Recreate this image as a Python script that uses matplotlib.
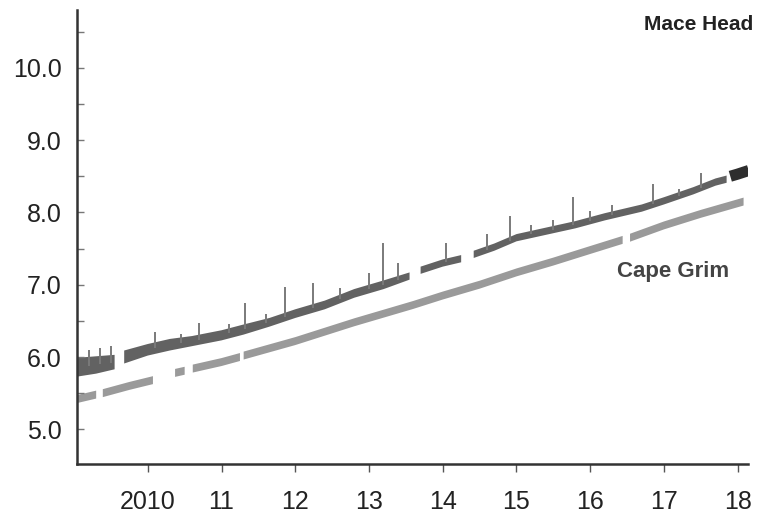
import matplotlib
matplotlib.use("Agg")
import matplotlib.pyplot as plt
import numpy as np

plt.rcParams['font.family'] = ['Liberation Sans', 'DejaVu Sans']

# Mace Head baseline band (year, centre, half width); nan = gap in record
mace_t = [2009.05, 2009.3, 2009.55, 2009.6, 2009.68, 2010.0, 2010.3, 2010.6, 2011.0,
          2011.3, 2011.65, 2012.0, 2012.4, 2012.8, 2013.2, 2013.55, 2013.62, 2013.7,
          2014.0, 2014.25, 2014.33, 2014.42, 2014.7, 2015.0, 2015.4, 2015.8, 2016.2,
          2016.7, 2017.0, 2017.4, 2017.7, 2017.85]
mace_c = [5.86, 5.89, 5.93, np.nan, 6.0, 6.1, 6.17, 6.22, 6.3,
          6.38, 6.48, 6.6, 6.72, 6.88, 7.0, 7.12, np.nan, 7.2,
          7.3, 7.36, np.nan, 7.42, 7.52, 7.65, 7.74, 7.83, 7.94,
          8.06, 8.16, 8.3, 8.42, 8.46]
mace_hw = [0.13, 0.12, 0.1, np.nan, 0.09, 0.08, 0.08, 0.07, 0.07,
           0.07, 0.06, 0.06, 0.06, 0.06, 0.06, 0.05, np.nan, 0.05,
           0.05, 0.05, np.nan, 0.05, 0.05, 0.05, 0.05, 0.05, 0.05,
           0.05, 0.05, 0.05, 0.05, 0.05]

# last months at Mace Head (dark blob at the end)
mace_end_t = [2017.9, 2018.0, 2018.15]
mace_end_c = [8.5, 8.53, 8.58]

# pollution spikes at Mace Head (year, top value)
spike_t = [2009.2, 2009.35, 2009.5, 2010.1, 2010.45, 2010.7, 2011.1, 2011.32, 2011.6,
           2011.86, 2012.24, 2012.6, 2013.0, 2013.19, 2013.4, 2014.05, 2014.6,
           2014.91, 2015.2, 2015.5, 2015.76, 2016.0, 2016.3, 2016.85, 2017.2,
           2017.5, 2018.16]
spike_top = [6.1, 6.12, 6.15, 6.35, 6.32, 6.47, 6.45, 6.75, 6.6,
             6.97, 7.02, 6.95, 7.16, 7.58, 7.3, 7.58, 7.7,
             7.95, 7.82, 7.9, 8.21, 8.02, 8.1, 8.4, 8.32,
             8.55, 8.82]

# Cape Grim band
grim_t = [2009.05, 2009.3, 2009.35, 2009.39, 2009.75, 2010.07, 2010.2, 2010.37, 2010.5,
          2010.55, 2010.61, 2011.0, 2011.25, 2011.28, 2011.3, 2011.65, 2012.0, 2012.4,
          2012.8, 2013.2, 2013.6, 2014.0, 2014.5, 2015.0, 2015.5, 2016.0, 2016.44,
          2016.5, 2016.54, 2017.0, 2017.5, 2018.08]
grim_c = [5.42, 5.48, np.nan, 5.5, 5.6, 5.68, np.nan, 5.78, 5.81,
          np.nan, 5.84, 5.93, 6.0, np.nan, 6.02, 6.12, 6.22, 6.35,
          6.48, 6.6, 6.72, 6.85, 7.0, 7.17, 7.32, 7.48, 7.62,
          np.nan, 7.65, 7.82, 7.98, 8.15]

year_ticks = [2010, 2011, 2012, 2013, 2014, 2015, 2016, 2017, 2018]
year_labels = ['2010', '11', '12', '13', '14', '15', '16', '17', '18']
y_ticks = [5.0, 6.0, 7.0, 8.0, 9.0, 10.0]

fig = plt.figure(figsize=(7.58, 5.18), dpi=100)
ax = fig.add_axes([77/758, 54/518, 671/758, 454/518])

mt = np.array(mace_t)
mc = np.array(mace_c)
mh = np.array(mace_hw)
ok = ~np.isnan(mc)
ax.fill_between(mt, mc - mh, mc + mh, color='#626262', lw=0)
ax.vlines(spike_t, np.interp(spike_t, mt[ok], mc[ok]), spike_top,
          color='#7a7a7a', lw=1.4)
ax.plot(mace_end_t, mace_end_c, color='#2e2e2e', lw=8, solid_capstyle='butt')

gt = np.array(grim_t)
gc = np.array(grim_c)
ax.fill_between(gt, gc - 0.055, gc + 0.055, color='#9a9a9a', lw=0)

ax.set_xlim(2009.04, 2018.14)
ax.set_ylim(4.52, 10.8)
ax.set_xticks(year_ticks)
ax.set_xticklabels(year_labels)
ax.set_yticks(y_ticks)
ax.set_yticklabels(['%.1f' % v for v in y_ticks])
ax.set_yticks(np.arange(5.5, 10.6, 1.0), minor=True)

for s in ['top', 'right']:
    ax.spines[s].set_visible(False)
for s in ['left', 'bottom']:
    ax.spines[s].set_color('#333333')
    ax.spines[s].set_linewidth(1.8)

ax.tick_params(axis='x', direction='out', length=6, width=1, color='#555555',
               labelsize=18, pad=13, labelcolor='#222222')
ax.tick_params(axis='y', which='both', direction='in', length=5, width=1, color='#777777',
               labelsize=18, pad=11, labelcolor='#222222')

fig.text(644/758, 1 - 25/518, 'Mace Head', fontsize=15, fontweight='bold',
         color='#222222', va='center', ha='left')
fig.text(617/758, 1 - 271/518, 'Cape Grim', fontsize=16, fontweight='bold',
         color='#444444', va='center', ha='left')

fig.savefig('out.png', dpi=100)
